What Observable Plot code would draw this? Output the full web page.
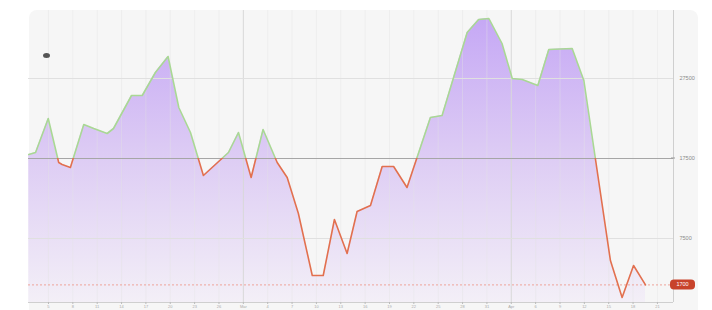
<!DOCTYPE html>
<html>
<head>
<meta charset="utf-8">
<script src="https://cdn.jsdelivr.net/npm/d3@7"></script>
<script src="https://cdn.jsdelivr.net/npm/@observablehq/plot@0.6"></script>
<style>
  html, body { margin: 0; padding: 0; background: #ffffff; }
  #wrap { position: relative; width: 712px; height: 310px; overflow: hidden; font-family: "Liberation Sans", Arial, sans-serif; }
  #panel { position: absolute; left: 29px; top: 10px; width: 669px; height: 320px; border-radius: 8px; background: #f6f6f6; }
  #marker { position: absolute; left: 43px; top: 53px; width: 7px; height: 5px; border-radius: 50%; background: #555; }
  #chart { position: absolute; left: 0; top: 0; }
</style>
</head>
<body>
<div id="wrap">
  <div id="panel"></div>
  <div id="chart"></div>
  <div id="marker"></div>
</div>
<script>
// ---- data (x in tick units) ----
const xs = [-0.81, -0.53, -0.01, 0.42, 0.56, 0.90, 1.45, 1.86, 2.41, 2.67, 3.41, 3.85, 4.39, 4.91, 5.35, 5.83, 6.36,
            7.39, 7.80, 8.32, 8.81, 9.39, 9.80, 10.26, 10.83, 11.28, 11.74, 12.26, 12.67, 13.22, 13.70, 14.17, 14.72,
            15.68, 16.16, 17.19, 17.66, 18.08, 18.62, 19.04, 19.45, 20.09, 20.54, 21.50, 21.98, 23.07, 23.55, 24.02, 24.51];
const values = [18000, 18250, 22500, 17000, 16750, 16375, 21750, 21250, 20625, 21250, 25375, 25375, 28250, 30250, 23875, 20750, 15375,
            18250, 20750, 15125, 21125, 17000, 15125, 10625, 2875, 2875, 9875, 5625, 10875, 11625, 16500, 16500, 13875,
            22625, 22875, 33250, 34875, 35000, 31875, 27500, 27375, 26625, 31125, 31250, 27250, 4750, 125, 4125, 1700];
const baseline = 17500;
const yTicks = [27500, 17500, 7500];
const xTickPos = d3.range(0, 26);
const xTickLabels = ["5","8","11","14","17","20","23","26","Mar","4","7","10","13","16","19","22","25","28","31","Apr","6","9","12","15","18","21"];
const strongX = [8, 19];

const data = xs.map((x, i) => ({x, v: values[i]}));
const last = values[values.length - 1];
const yMin = -500, yMax = 36000;

const plot = Plot.plot({
  width: 712,
  height: 310,
  marginLeft: 28,
  marginRight: 39,
  marginTop: 10,
  marginBottom: 8,
  style: {background: "transparent", fontFamily: "Liberation Sans, Arial, sans-serif"},
  x: {domain: [-0.82, 25.66]},
  y: {domain: [yMin, yMax]},
  marks: [
    Plot.areaY(data, {x: "x", y1: yMin, y2: "v", fill: "url(#areaGrad)"}),
    Plot.ruleX(xTickPos.filter(d => !strongX.includes(d)), {stroke: "#e4e4e4", strokeOpacity: 0.4, strokeWidth: 1}),
    Plot.ruleX(strongX, {stroke: "#d8d8d8", strokeWidth: 1}),
    Plot.ruleY([27500, 7500], {stroke: "#e0e0e0", strokeWidth: 1}),
    Plot.ruleY([baseline], {stroke: "#a6a6a6", strokeWidth: 1.2}),
    Plot.ruleY([last], {stroke: "#eea49a", strokeWidth: 1, strokeDasharray: "2,2"}),
    Plot.line(data, {x: "x", y: "v", stroke: "url(#lineGrad)", strokeWidth: 1.6, strokeLinejoin: "round"}),
    Plot.ruleX([25.66], {stroke: "#cfcfcf", strokeWidth: 1}),
    Plot.ruleY([yMin], {stroke: "#cfcfcf", strokeWidth: 1}),
    Plot.axisY({anchor: "right", ticks: yTicks, tickSize: 0, tickPadding: 6, fontSize: 5.5, fill: "#8a8a8a", textAnchor: "start", label: null, tickFormat: d => String(d)}),
    Plot.axisX({ticks: xTickPos, tickSize: 2, tickPadding: 0.5, fontSize: 4, fill: "#aaa", stroke: "#bbb", label: null, tickFormat: (d, i) => xTickLabels[i]})
  ]
});

const svg = d3.select(plot);
const yS = plot.scale("y");
const basePix = yS.apply(baseline);
const defs = svg.insert("defs", ":first-child");
const lg = defs.append("linearGradient").attr("id", "lineGrad").attr("gradientUnits", "userSpaceOnUse")
  .attr("x1", 0).attr("y1", 0).attr("x2", 0).attr("y2", 310);
const f = basePix / 310;
lg.append("stop").attr("offset", 0).attr("stop-color", "#a9d894");
lg.append("stop").attr("offset", f).attr("stop-color", "#a9d894");
lg.append("stop").attr("offset", f).attr("stop-color", "#e2704f");
lg.append("stop").attr("offset", 1).attr("stop-color", "#e2704f");
const ag = defs.append("linearGradient").attr("id", "areaGrad").attr("gradientUnits", "userSpaceOnUse")
  .attr("x1", 0).attr("y1", yS.apply(yMax)).attr("x2", 0).attr("y2", yS.apply(yMin));
ag.append("stop").attr("offset", 0).attr("stop-color", "#c4a6f5");
ag.append("stop").attr("offset", 0.5).attr("stop-color", "#ddccf4");
ag.append("stop").attr("offset", 1).attr("stop-color", "#f3eff7");

// baseline tick mark and current value badge
const xS = plot.scale("x");
const rx = xS.apply(25.66);
svg.append("line").attr("x1", rx - 2).attr("x2", rx + 2).attr("y1", basePix).attr("y2", basePix).attr("stroke", "#999");
const ly = yS.apply(last);
svg.append("rect").attr("x", rx - 3).attr("y", ly - 5).attr("width", 25).attr("height", 10).attr("rx", 4).attr("fill", "#c8432b");
svg.append("text").attr("x", rx + 9.5).attr("y", ly + 2).attr("text-anchor", "middle").attr("font-size", 5.5)
  .attr("fill", "#fff").attr("font-family", "Liberation Sans, Arial, sans-serif").text(String(last));

document.getElementById("chart").appendChild(plot);
</script>
</body>
</html>
